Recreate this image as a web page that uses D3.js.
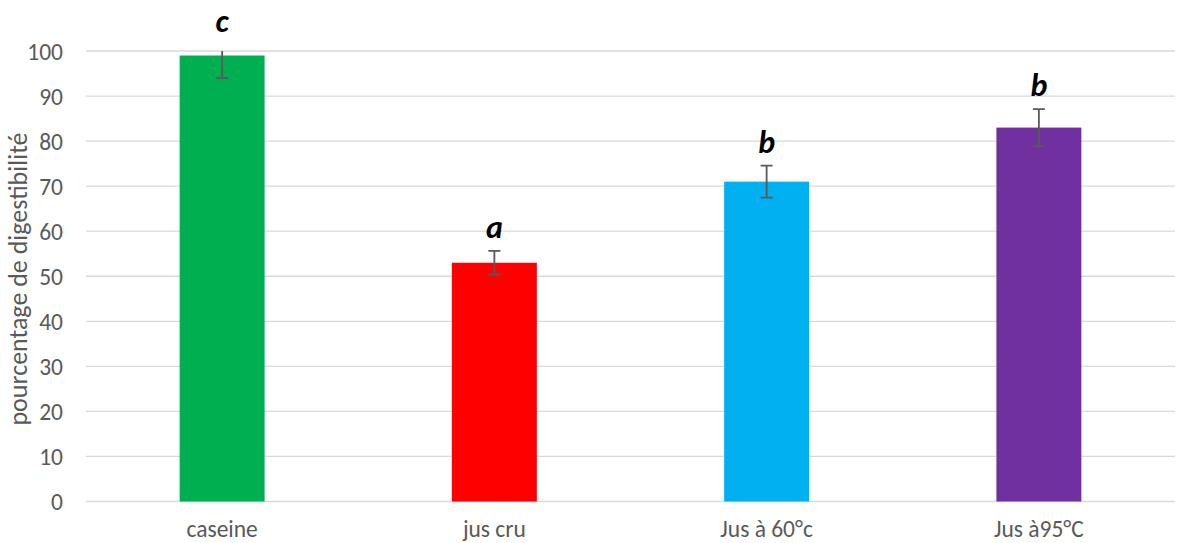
<!DOCTYPE html>
<html><head><meta charset="utf-8">
<script src="https://cdn.jsdelivr.net/npm/d3@7"></script>
<style>body{margin:0;background:#fff}svg{display:block}text{font-family:Carlito,"Open Sans","Liberation Sans",sans-serif}</style>
</head><body><svg id="c" width="1182" height="543"></svg>
<script>
const categories = ["caseine", "jus cru", "Jus à 60°c", "Jus à95°C"];
const values = [99, 53, 71, 83];
const errors = [5, 2.65, 3.55, 4.1];
const letters = ["c", "a", "b", "b"];
const colors = ["#00B050", "#FF0000", "#00B0F0", "#7030A0"];
const yTicks = [0, 10, 20, 30, 40, 50, 60, 70, 80, 90, 100];
const yTitle = "pourcentage de digestibilité";

const svg = d3.select("#c");
const L = 86, R = 1175, T = 51, B = 501.5;
const x = d3.scaleBand().domain(categories).range([L, R]).paddingInner(0.688).paddingOuter(0.344);
const y = d3.scaleLinear().domain([0, 100]).range([B, T]);

svg.append("defs").append("clipPath").attr("id", "pc")
  .append("rect").attr("x", L).attr("y", T).attr("width", R - L).attr("height", B - T);

// gridlines
svg.append("g").selectAll("line").data(yTicks).join("line")
  .attr("x1", L).attr("x2", R).attr("y1", d => y(d)).attr("y2", d => y(d))
  .attr("stroke", "#D9D9D9").attr("stroke-width", 1.3);

// y axis labels
const ya = svg.append("g").attr("transform", `translate(${L - 23},0)`)
  .call(d3.axisLeft(y).tickValues(yTicks).tickSize(0).tickPadding(0));
ya.select(".domain").remove();
ya.selectAll("text").attr("fill", "#595959").attr("dy", "0.34em").style("font-size", "23.5px")
  .style("font-family", 'Carlito,"Open Sans","Liberation Sans",sans-serif');

// bars
svg.append("g").selectAll("rect").data(categories).join("rect")
  .attr("x", d => x(d)).attr("width", x.bandwidth())
  .attr("y", (d, i) => y(values[i])).attr("height", (d, i) => B - y(values[i]))
  .attr("fill", (d, i) => colors[i]);

// error bars
const eg = svg.append("g").attr("clip-path", "url(#pc)").attr("stroke", "#595959").attr("stroke-width", 1.8);
categories.forEach((c, i) => {
  const cx = x(c) + x.bandwidth() / 2;
  const hi = y(values[i] + errors[i]), lo = y(values[i] - errors[i]);
  eg.append("line").attr("x1", cx).attr("x2", cx).attr("y1", hi).attr("y2", lo);
  if (values[i] + errors[i] <= 100)
    eg.append("line").attr("x1", cx - 6).attr("x2", cx + 6).attr("y1", hi).attr("y2", hi);
  eg.append("line").attr("x1", cx - 6).attr("x2", cx + 6).attr("y1", lo).attr("y2", lo);
});

// significance letters
svg.append("g").selectAll("text").data(categories).join("text")
  .attr("x", d => x(d) + x.bandwidth() / 2)
  .attr("y", (d, i) => Math.max(32, y(values[i] + errors[i]) - 13))
  .attr("text-anchor", "middle").attr("fill", "#000")
  .style("font-size", "32px").style("font-weight", "bold").style("font-style", "italic")
  .text((d, i) => letters[i]);

// x labels
svg.append("g").selectAll("text").data(categories).join("text")
  .attr("x", d => x(d) + x.bandwidth() / 2).attr("y", 537)
  .attr("text-anchor", "middle").attr("fill", "#595959").style("font-size", "23.5px")
  .text(d => d);

// y title
svg.append("text").attr("transform", `translate(27,${279}) rotate(-90)`)
  .attr("text-anchor", "middle").attr("fill", "#595959").style("font-size", "26px")
  .text(yTitle);
</script></body></html>
